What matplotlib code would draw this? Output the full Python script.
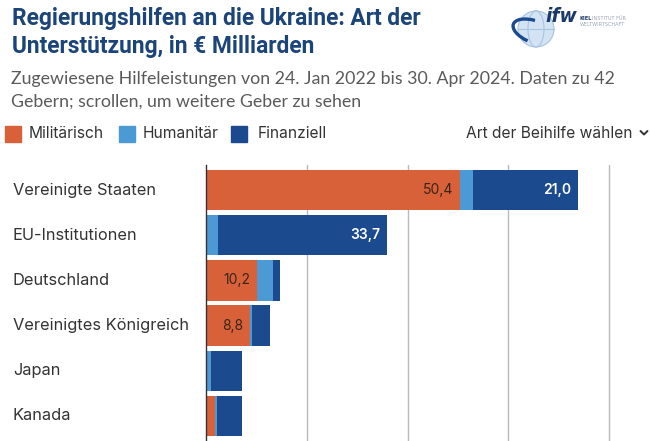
import matplotlib
matplotlib.use("Agg")
import matplotlib.pyplot as plt
from matplotlib.patches import Rectangle, Circle, Arc

# ---- data ----
countries = ["Vereinigte Staaten", "EU-Institutionen", "Deutschland",
             "Vereinigtes Königreich", "Japan", "Kanada"]
military = [50.4, 0.0, 10.2, 8.8, 0.0, 1.8]
humanitarian = [2.5, 2.3, 3.0, 0.4, 0.9, 0.3]
financial = [21.0, 33.7, 1.4, 3.4, 6.2, 5.0]
series_names = ["Militärisch", "Humanitär", "Finanziell"]
grid_ticks = [20, 40, 60, 80]

c_mil = "#D8613A"
c_hum = "#4B9AD5"
c_fin = "#1B4A8F"
title_color = "#1B4478"

W, H = 650, 441
fig = plt.figure(figsize=(W / 100, H / 100), dpi=100)
fig.patch.set_facecolor("white")

def fx(x):
    return x / W

def fy(y):
    return 1 - y / H

# ---- title / subtitle ----
fig.text(fx(12), fy(25), "Regierungshilfen an die Ukraine: Art der",
         family="Roboto", weight="bold", fontsize=16.4, color=title_color,
         va="baseline", ha="left")
fig.text(fx(12), fy(52.7), "Unterstützung, in € Milliarden",
         family="Roboto", weight="bold", fontsize=16.4, color=title_color,
         va="baseline", ha="left")
fig.text(fx(11), fy(79), "Zugewiesene Hilfeleistungen von 24. Jan 2022 bis 30. Apr 2024. Daten zu 42",
         family="Lato", fontsize=12.8, color="#5a5a5a",
         va="center", ha="left")
fig.text(fx(11), fy(102), "Gebern; scrollen, um weitere Geber zu sehen",
         family="Lato", fontsize=12.8, color="#5a5a5a",
         va="center", ha="left")

# ---- legend ----
leg_cols = [c_mil, c_hum, c_fin]
leg_sq_x = [5, 119, 231]
leg_tx_x = [29, 143, 258]
for name, col, sx, tx in zip(series_names, leg_cols, leg_sq_x, leg_tx_x):
    fig.patches.append(Rectangle((fx(sx), fy(142)), 16 / W, 16 / H,
                                 transform=fig.transFigure, color=col))
    fig.text(fx(tx), fy(133.5), name, family="Inter", fontsize=11.2,
             color="#333333", va="center", ha="left")
fig.text(fx(633), fy(133.5), "Art der Beihilfe wählen", family="Inter",
         fontsize=11.2, color="#333333", va="center", ha="right")

# ---- logo + chevron (pixel coordinates) ----
lax = fig.add_axes([fx(505), fy(150), 145 / W, 150 / H])
lax.set_xlim(505, 650)
lax.set_ylim(150, 0)
lax.axis("off")
lax.plot([640.5, 644, 647.5], [131, 134.5, 131], color="#333333", lw=1.4,
         solid_capstyle="round", solid_joinstyle="round")
lax.add_patch(Circle((536, 29), 18, color="#D3E3F3", lw=0))
lax.add_patch(Arc((536, 29), 36, 36, color="#A8C4E2", lw=0.8))
lax.add_patch(Arc((536, 29), 16, 36, color="#A8C4E2", lw=0.8))
lax.plot([518, 554], [29, 29], color="#A8C4E2", lw=0.8)
lax.add_patch(Arc((535, 32), 46, 22, angle=20, theta1=110, theta2=250,
                  color="#1B4A8F", lw=2.4))
lax.text(545, 17, "ifw", family="DejaVu Sans", weight="bold", style="italic",
         fontsize=13.5, color="#1B3A6B", va="center", ha="left")
lax.text(580, 18, "KIEL", family="DejaVu Sans", weight="bold", fontsize=3.6,
         color="#1B3A6B", va="center", ha="left")
lax.text(592, 18, "INSTITUT FÜR", family="DejaVu Sans", fontsize=3.6,
         color="#9AA6B4", va="center", ha="left")
lax.text(580, 25, "WELTWIRTSCHAFT", family="DejaVu Sans", fontsize=3.6,
         color="#9AA6B4", va="center", ha="left")

# ---- chart ----
ax = fig.add_axes([fx(206), 0.0, (W - 206) / W, (441 - 165) / H])
ypos = list(range(len(countries)))
h = 0.89
left_h = [m for m in military]
left_f = [m + u for m, u in zip(military, humanitarian)]
ax.barh(ypos, military, height=h, color=c_mil, zorder=3)
ax.barh(ypos, humanitarian, left=left_h, height=h, color=c_hum, zorder=3)
ax.barh(ypos, financial, left=left_f, height=h, color=c_fin, zorder=3)

for i in ypos:
    if military[i] >= 8:
        ax.annotate(f"{military[i]:.1f}".replace(".", ","), (military[i], i),
                    xytext=(-5, 0), textcoords="offset points", ha="right",
                    va="center", family="Inter", fontsize=10, color="#3a2418",
                    zorder=4)
    if financial[i] >= 8:
        end = left_f[i] + financial[i]
        ax.annotate(f"{financial[i]:.1f}".replace(".", ","), (end, i),
                    xytext=(-5, 0), textcoords="offset points", ha="right",
                    va="center", family="Inter", fontsize=10, color="white",
                    weight="semibold", zorder=4)

ax.set_xlim(0, (W - 206) / 5.04)
ax.set_ylim(5.56, -0.56)
for g in grid_ticks:
    ax.axvline(g, color="#BBBBBB", lw=1, zorder=1)
for s in ["top", "right", "bottom"]:
    ax.spines[s].set_visible(False)
ax.spines["left"].set_color("#333333")
ax.spines["left"].set_linewidth(1)
ax.spines["left"].set_zorder(5)
ax.set_xticks([])
ax.set_yticks([])

for i, name in enumerate(countries):
    ax.annotate(name, (fx(13), i), xycoords=("figure fraction", "data"),
                ha="left", va="center", family="Inter", fontsize=11.8,
                color="#333333", annotation_clip=False)

fig.savefig("out.png", dpi=100, facecolor="white")
